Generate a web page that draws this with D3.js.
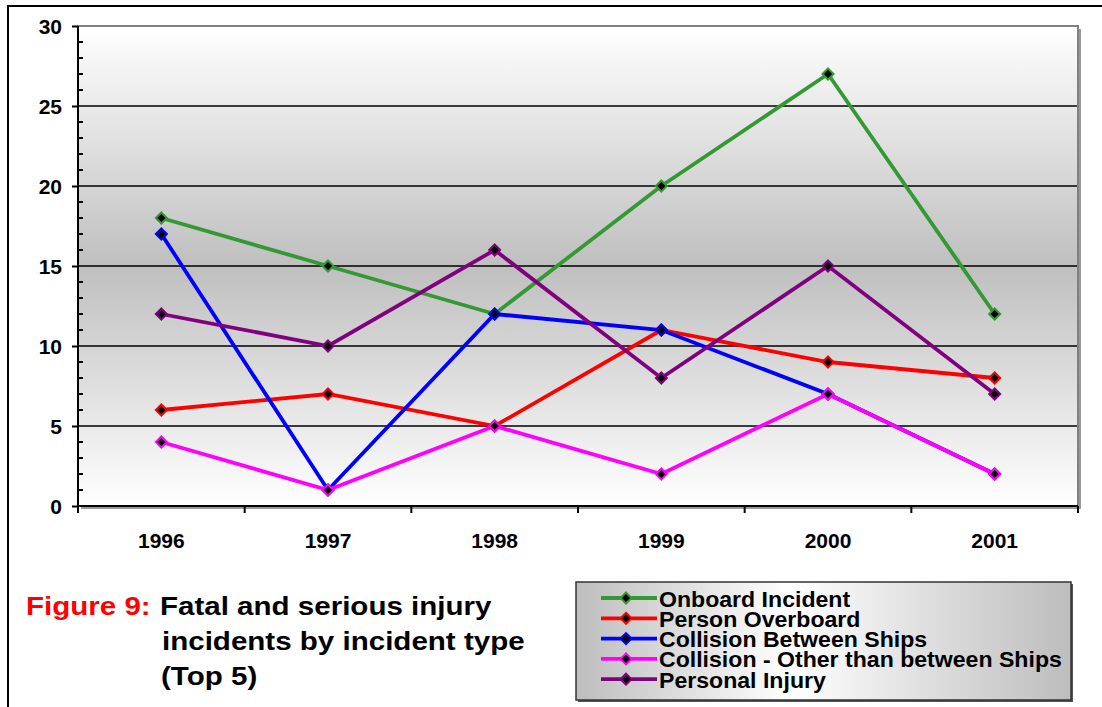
<!DOCTYPE html>
<html><head><meta charset="utf-8">
<script src="https://cdn.jsdelivr.net/npm/d3@7"></script>
<style>
html,body{margin:0;padding:0;background:#fff;}
svg{display:block;font-family:"Liberation Sans",Arial,sans-serif;}
</style></head>
<body><svg id="c" width="1102" height="707"></svg>
<script>
const years = ["1996","1997","1998","1999","2000","2001"];
const seriesNames = ["Onboard Incident","Person Overboard","Collision Between Ships","Collision - Other than between Ships","Personal Injury"];
const seriesColors = ["#339933","#ff0000","#0000ff","#ff00ff","#800080"];
const onboardIncident = [18,15,12,20,27,12];
const personOverboard = [6,7,5,11,9,8];
const collisionShips = [17,1,12,11,7,2];
const collisionOther = [4,1,5,2,7,2];
const personalInjury = [12,10,16,8,15,7];
const seriesValues = [onboardIncident,personOverboard,collisionShips,collisionOther,personalInjury];
const yTicks = [0,5,10,15,20,25,30];

const svg = d3.select("#c");
const defs = svg.append("defs");
const bg = defs.append("linearGradient").attr("id","bg").attr("x1",0).attr("y1",0).attr("x2",0).attr("y2",1);
bg.append("stop").attr("offset","0%").attr("stop-color","#ffffff");
bg.append("stop").attr("offset","50%").attr("stop-color","#bfbfbf");
bg.append("stop").attr("offset","100%").attr("stop-color","#ffffff");
const lg = defs.append("linearGradient").attr("id","lg").attr("x1",0).attr("y1",0).attr("x2",1).attr("y2",0);
lg.append("stop").attr("offset","0%").attr("stop-color","#bdbdbd");
lg.append("stop").attr("offset","43%").attr("stop-color","#ffffff");
lg.append("stop").attr("offset","100%").attr("stop-color","#bdbdbd");

// outer frame
svg.append("rect").attr("x",8).attr("y",6).attr("width",1110).attr("height",720)
  .attr("fill","none").attr("stroke","#000").attr("stroke-width",2);

const L=78, T=26, R=1078, B=506;
const x = d3.scaleBand().domain(years).range([L,R]);
const y = d3.scaleLinear().domain([0,30]).range([B,T]);

// plot area with shadow
svg.append("rect").attr("x",L+3).attr("y",T+3).attr("width",R-L).attr("height",B-T).attr("fill","#9a9a9a");
svg.append("rect").attr("x",L).attr("y",T).attr("width",R-L).attr("height",B-T).attr("fill","url(#bg)");

// gridlines
svg.append("g").selectAll("line").data(yTicks.filter(d=>d>0&&d<30)).join("line")
  .attr("x1",L).attr("x2",R).attr("y1",d=>y(d)).attr("y2",d=>y(d))
  .attr("stroke","#000").attr("stroke-width",1.6);
svg.append("rect").attr("x",L).attr("y",T).attr("width",R-L).attr("height",B-T)
  .attr("fill","none").attr("stroke","#808080").attr("stroke-width",2);

// y axis
const yAxis = svg.append("g").attr("transform",`translate(${L},0)`)
  .call(d3.axisLeft(y).tickValues(yTicks).tickSize(6).tickPadding(10));
yAxis.select(".domain").remove();
yAxis.selectAll("line").attr("stroke","#000").attr("stroke-width",2);
yAxis.selectAll("text").attr("font-size",21).attr("font-weight","bold").attr("fill","#000")
  .attr("font-family","Liberation Sans, Arial, sans-serif").attr("dy","0.36em");
const minor = d3.range(0,31).filter(v=>v%5!==0);
svg.append("g").selectAll("line").data(minor).join("line")
  .attr("x1",L).attr("x2",L+5).attr("y1",d=>y(d)).attr("y2",d=>y(d)).attr("stroke","#000").attr("stroke-width",2);
svg.append("line").attr("x1",L).attr("x2",L).attr("y1",T).attr("y2",B+1).attr("stroke","#000").attr("stroke-width",2);

// x axis
svg.append("line").attr("x1",L-1).attr("x2",R).attr("y1",B).attr("y2",B).attr("stroke","#000").attr("stroke-width",2);
const bounds = years.map(d=>x(d)).concat([R]);
svg.append("g").selectAll("line").data(bounds).join("line")
  .attr("x1",d=>d).attr("x2",d=>d).attr("y1",B).attr("y2",B+7).attr("stroke","#000").attr("stroke-width",2);
svg.append("g").selectAll("text").data(years).join("text")
  .attr("x",d=>x(d)+x.bandwidth()/2).attr("y",548).attr("text-anchor","middle")
  .attr("font-size",21).attr("font-weight","bold").text(d=>d);

// series
const line = d3.line().x((d,i)=>x(years[i])+x.bandwidth()/2).y(d=>y(d));
const diamond = (cx,cy,r)=>`M${cx},${cy-r}L${cx+r},${cy}L${cx},${cy+r}L${cx-r},${cy}Z`;
seriesValues.forEach((vals,si)=>{
  const g = svg.append("g");
  g.append("path").attr("d",line(vals)).attr("fill","none").attr("stroke",seriesColors[si])
    .attr("stroke-width",3.8).attr("stroke-linejoin","miter");
  g.selectAll("path.m").data(vals).join("path").attr("class","m")
    .attr("d",(d,i)=>diamond(x(years[i])+x.bandwidth()/2,y(d),5.5))
    .attr("fill","#000").attr("stroke",seriesColors[si]).attr("stroke-width",2);
});

// legend
const lx=576, ly=582, lw=495, lh=118;
svg.append("rect").attr("x",lx+2).attr("y",ly+2).attr("width",lw).attr("height",lh).attr("fill","#555");
svg.append("rect").attr("x",lx).attr("y",ly).attr("width",lw).attr("height",lh).attr("fill","url(#lg)").attr("stroke","#333").attr("stroke-width",1.5);
seriesNames.forEach((n,i)=>{
  const cy = 598 + i*20.3;
  svg.append("line").attr("x1",601).attr("x2",657).attr("y1",cy).attr("y2",cy).attr("stroke",seriesColors[i]).attr("stroke-width",3.8);
  svg.append("path").attr("d",diamond(626,cy,5.5)).attr("fill","#000").attr("stroke",seriesColors[i]).attr("stroke-width",2);
  svg.append("text").attr("transform",`translate(659,${cy+8.5}) scale(1.05,1)`)
    .attr("font-size",22).attr("font-weight","bold").text(n);
});

// caption
const capLines = [
  {x:26, y:615, fill:"#ff0000", t:"Figure 9:"},
  {x:160, y:615, fill:"#000", t:"Fatal and serious injury"},
  {x:162, y:650, fill:"#000", t:"incidents by incident type"},
  {x:161, y:685, fill:"#000", t:"(Top 5)"}
];
svg.append("g").selectAll("text").data(capLines).join("text")
  .attr("transform",d=>`translate(${d.x},${d.y}) scale(1.115,1)`)
  .attr("font-size",26.5).attr("font-weight","bold").attr("fill",d=>d.fill).text(d=>d.t);
</script></body></html>
